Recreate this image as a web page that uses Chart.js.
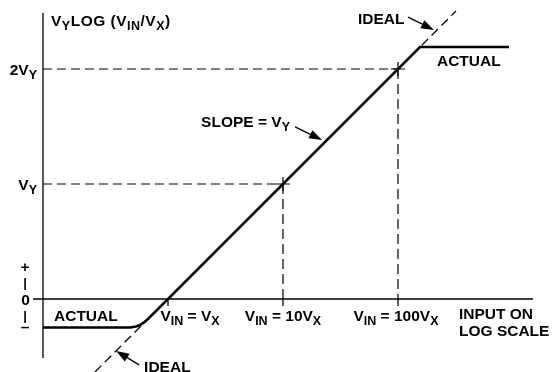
<!DOCTYPE html>
<html>
<head>
<meta charset="utf-8">
<script src="https://cdn.jsdelivr.net/npm/chart.js@4.4.1/dist/chart.umd.min.js"></script>
<style>
  html, body { margin: 0; padding: 0; background: #ffffff; }
  canvas { display: block; }
</style>
</head>
<body>
<canvas id="c" width="553" height="372"></canvas>
<script>
// ---------- data (x in decades: log10(VIN/VX), y in units of VY) ----------
const decadeValues = [0, 1, 2];
const decadeLabels = ['V_{IN} = V_{X}', 'V_{IN} = 10V_{X}', 'V_{IN} = 100V_{X}'];
const levelValues = [1, 2];
const levelLabels = ['V_{Y}', '2V_{Y}'];
const zeroLabel = '0';
const signLabels = ['+', '|', '|', '\u2013'];
const yTitle = 'V_{Y}LOG (V_{IN}/V_{X})';
const xTitle = ['INPUT ON', 'LOG SCALE'];

// ideal transfer function (dashed) y = x
const idealX = [-0.635, 2.504];
const idealY = [-0.635, 2.504];

// actual transfer function (solid) with saturation at both ends
const actualX = [-1.087, -0.330, -0.278, -0.243, -0.209, -0.174, 2.191, 2.965];
const actualY = [-0.248, -0.248, -0.239, -0.226, -0.204, -0.174, 2.191, 2.191];

// axis extents
const xAxisRange = [-1.174, 3.174];
const yAxisRange = [-0.513, 2.487];
const yAxisAt = -1.087;
const tickDepth = 0.06;

const MAIN = 'bold 15.5px "Liberation Sans", Arial, Helvetica, sans-serif';
const SUB = 'bold 12.5px "Liberation Sans", Arial, Helvetica, sans-serif';

const pts = (xs, ys) => xs.map((x, i) => ({ x, y: ys[i] }));

const black = '#000000';
const datasets = [];
const lineDs = (data, width, dash) => ({
  data, showLine: true, borderColor: black, borderWidth: width,
  borderDash: dash || [], pointRadius: 0, fill: false, tension: 0, spanGaps: false
});

// axes
datasets.push(lineDs([{ x: xAxisRange[0], y: 0 }, { x: xAxisRange[1], y: 0 }], 1.3));
datasets.push(lineDs([{ x: yAxisAt, y: yAxisRange[0] }, { x: yAxisAt, y: yAxisRange[1] }], 1.3));
// x ticks
decadeValues.forEach(v => datasets.push(lineDs([{ x: v, y: 0 }, { x: v, y: -tickDepth }], 1.3)));
// guide lines
levelValues.forEach((lv, i) => {
  const dv = decadeValues[i + 1];
  datasets.push(lineDs([{ x: yAxisAt, y: lv }, { x: dv, y: lv }], 1.2, [9, 5]));
  datasets.push(lineDs([{ x: dv, y: lv }, { x: dv, y: 0 }], 1.2, [10, 5]));
});
// ideal
datasets.push(lineDs(pts(idealX, idealY), 1.3, [9, 5]));
// actual
datasets.push(lineDs(pts(actualX, actualY), 2.6));
// cross markers
datasets.push({
  data: levelValues.map((lv, i) => ({ x: decadeValues[i + 1], y: lv })),
  showLine: false, pointStyle: 'cross', pointRadius: 7, borderColor: black,
  borderWidth: 1.2, backgroundColor: black
});

function parseRich(s) {
  const segs = []; const re = /_\{([^}]*)\}/g; let last = 0, m;
  while ((m = re.exec(s))) {
    if (m.index > last) segs.push([s.slice(last, m.index), false]);
    segs.push([m[1], true]); last = re.lastIndex;
  }
  if (last < s.length) segs.push([s.slice(last), false]);
  return segs;
}
function drawRich(ctx, s, x, y, align, spacing) {
  const segs = parseRich(s);
  const sp = spacing || 0;
  let w = 0;
  segs.forEach(([t, sub]) => { ctx.font = sub ? SUB : MAIN; w += ctx.measureText(t).width + sp * t.length; });
  let cx = align === 'center' ? x - w / 2 : align === 'right' ? x - w : x;
  ctx.textAlign = 'left'; ctx.textBaseline = 'alphabetic';
  segs.forEach(([t, sub]) => {
    ctx.font = sub ? SUB : MAIN;
    for (const ch of t) {
      ctx.fillText(ch, cx, sub ? y + 4 : y);
      cx += ctx.measureText(ch).width + sp;
    }
  });
}
function arrow(ctx, x0, y0, x1, y1) {
  const ang = Math.atan2(y1 - y0, x1 - x0);
  const hl = 13, hw = 4.5;
  const bx = x1 - hl * Math.cos(ang), by = y1 - hl * Math.sin(ang);
  ctx.beginPath(); ctx.moveTo(x0, y0); ctx.lineTo(bx, by);
  ctx.lineWidth = 1.4; ctx.strokeStyle = black; ctx.stroke();
  ctx.beginPath(); ctx.moveTo(x1, y1);
  ctx.lineTo(bx + hw * Math.sin(ang), by - hw * Math.cos(ang));
  ctx.lineTo(bx - hw * Math.sin(ang), by + hw * Math.cos(ang));
  ctx.closePath(); ctx.fillStyle = black; ctx.fill();
}

const labelsPlugin = {
  id: 'labels',
  afterDatasetsDraw(chart) {
    const ctx = chart.ctx, xs = chart.scales.x, ys = chart.scales.y;
    const X = v => xs.getPixelForValue(v), Y = v => ys.getPixelForValue(v);
    ctx.save();
    ctx.fillStyle = black;
    const ax = X(yAxisAt), y0 = Y(0);
    // y title
    drawRich(ctx, yTitle, ax + 8, Y(yAxisRange[1]) + 13, 'left', 0.5);
    // level labels
    levelValues.forEach((lv, i) => drawRich(ctx, levelLabels[i], ax - 6, Y(lv) + 5.5, 'right'));
    drawRich(ctx, zeroLabel, ax - 13, y0 + 5.5, 'right');
    // sign column
    const signOff = [-31, -16, 17, 29];
    signLabels.forEach((s, i) => {
      ctx.font = s === '|' ? 'bold 13px "Liberation Sans", Arial, sans-serif' : MAIN;
      ctx.textAlign = 'center'; ctx.textBaseline = 'middle';
      ctx.fillText(s, ax - 18, y0 + signOff[i]);
    });
    // decade labels
    const decOff = [22, 0, -2];
    decadeValues.forEach((v, i) => drawRich(ctx, decadeLabels[i], X(v) + decOff[i], y0 + 22, 'center'));
    // x title
    drawRich(ctx, xTitle[0], X(xAxisRange[1]) - 74, y0 + 20);
    drawRich(ctx, xTitle[1], X(xAxisRange[1]) - 74, y0 + 37);
    // ACTUAL labels
    const topY = Y(actualY[actualY.length - 1]);
    drawRich(ctx, 'ACTUAL', X(actualX[actualX.length - 2]) + 17, topY + 19);
    drawRich(ctx, 'ACTUAL', ax + 11, Y(actualY[0]) - 7);
    // IDEAL labels + arrows
    const tipTop = [X(2.33) - 2, Y(2.33) - 1];
    drawRich(ctx, 'IDEAL', tipTop[0] - 76, tipTop[1] - 6);
    arrow(ctx, tipTop[0] - 26, tipTop[1] - 13, tipTop[0], tipTop[1]);
    const tipBot = [X(-0.46) + 1, Y(-0.46) - 1];
    drawRich(ctx, 'IDEAL', tipBot[0] + 28, tipBot[1] + 21);
    arrow(ctx, tipBot[0] + 23, tipBot[1] + 14, tipBot[0], tipBot[1]);
    // slope label
    const tipS = [X(1.34), Y(1.34) - 5];
    drawRich(ctx, 'SLOPE = V_{Y}', tipS[0] - 121, tipS[1] - 13);
    arrow(ctx, tipS[0] - 27, tipS[1] - 13, tipS[0], tipS[1]);
    ctx.restore();
  }
};

new Chart(document.getElementById('c'), {
  type: 'scatter',
  data: { datasets },
  options: {
    responsive: false, animation: false, devicePixelRatio: 1,
    layout: { padding: 0, autoPadding: false },
    plugins: { legend: { display: false }, tooltip: { enabled: false } },
    scales: {
      x: { type: 'linear', display: false, min: -168 / 115, max: 385 / 115 },
      y: { type: 'linear', display: false, min: -73 / 115, max: 299 / 115 }
    }
  },
  plugins: [labelsPlugin]
});
</script>
</body>
</html>
